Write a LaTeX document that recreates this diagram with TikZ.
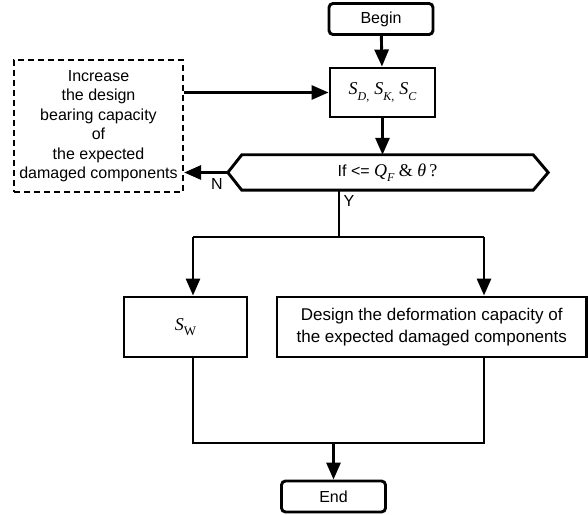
\documentclass[tikz,border=0pt]{standalone}
\usepackage{fontspec}
\setmainfont{Liberation Sans}
\newfontfamily\tms{Liberation Serif}
\usetikzlibrary{arrows.meta}
% italic serif symbol with a lowered subscript
\newcommand\symsub[2]{{\tms\itshape #1}\raisebox{-0.3em}{\fontsize{12bp}{12bp}\selectfont\tms #2}}
\tikzset{
  lw/.style={line width=2.9bp},
  term/.style={lw, draw, rounded corners=4bp, minimum width=104bp, minimum height=31bp, inner sep=0pt,
    font=\fontsize{16bp}{18bp}\selectfont},
  proc/.style={lw, draw, inner sep=0pt},
  flow/.style={lw, -{Triangle[length=17bp,width=14bp]}},
  link/.style={lw},
  lbl/.style={font=\fontsize{16bp}{19bp}\selectfont, inner sep=0pt},
}
\begin{document}
\begin{tikzpicture}[x=1bp,y=-1bp]
\useasboundingbox (0,0) rectangle (588,515);

% terminals
\node[term] (begin) at (381,19) {Begin};
\node[term] (end) at (333.5,496.5) {End};

% first process box
\node[proc, minimum width=105bp, minimum height=49bp] (sdk) at (382.5,92.5)
  {\fontsize{18bp}{20bp}\selectfont\symsub{S}{\itshape D,} \symsub{S}{\itshape K,} \symsub{S}{\itshape C}};

% decision (hexagon drawn around an invisible node)
\node[inner sep=0pt, minimum width=291bp, minimum height=35bp,
      font=\fontsize{16bp}{19bp}\selectfont] (dec) at (387.5,172.5)
  {If <= {\fontsize{18bp}{19bp}\selectfont\tms\itshape Q}\raisebox{-0.3em}{\fontsize{12bp}{12bp}\selectfont\tms\itshape F} {\fontsize{18bp}{19bp}\selectfont\tms\& \itshape θ\,\upshape ?}};
\coordinate (decW) at ([xshift=-14bp]dec.west);
\coordinate (decE) at ([xshift=15bp]dec.east);
\draw[lw, line join=miter] (decW) -- (dec.north west) -- (dec.north east) -- (decE)
  -- (dec.south east) -- (dec.south west) -- cycle;

% remedy box
\node[draw, dash pattern=on 6bp off 4bp, line width=2.3bp, minimum width=169bp, minimum height=132bp,
      align=center, inner sep=0pt, font=\fontsize{16bp}{19.5bp}\selectfont] (inc) at (98.5,126)
  {Increase\\ the design\\ bearing capacity\\ of\\ the expected\\ damaged components};

% lower boxes
\node[proc, minimum width=123bp, minimum height=60bp] (sw) at (185.5,327)
  {\fontsize{18bp}{20bp}\selectfont{\tms\itshape S}\raisebox{-0.3em}{\fontsize{13bp}{13bp}\selectfont\tms W}};
\node[proc, minimum width=309.5bp, minimum height=60bp, align=center,
      font=\fontsize{17bp}{22bp}\selectfont] (dsg) at (431.75,327)
  {Design the deformation capacity of\\ the expected damaged components};

% junction points
\coordinate (yTop) at (339,237);
\coordinate (yL) at (193,237);
\coordinate (yR) at (484,237);
\coordinate (bL) at (193,443);
\coordinate (bR) at (484,443);
\coordinate (bM) at (333.5,443);

% connectors
\draw[flow] (begin) -- (sdk);
\draw[flow] (sdk) -- (sdk.south |- dec.north);
\draw[flow] (inc.east |- sdk.west) -- (sdk.west);
\draw[flow] (decW) -- (decW -| inc.east);
\node[lbl] (nlab) at (217,184) {N};
\draw[link] (yTop |- dec.south) -- (yTop);
\node[lbl] (ylab) at (349,201) {Y};
\draw[link] (yL) -- (yR);
\draw[flow] (yL) -- (yL |- sw.north);
\draw[flow] (yR) -- (yR |- dsg.north);
\draw[link] (bL |- sw.south) -- (bL) -- (bR) -- (bR |- dsg.south);
\draw[flow] (bM) -- (end);
\end{tikzpicture}
\end{document}
